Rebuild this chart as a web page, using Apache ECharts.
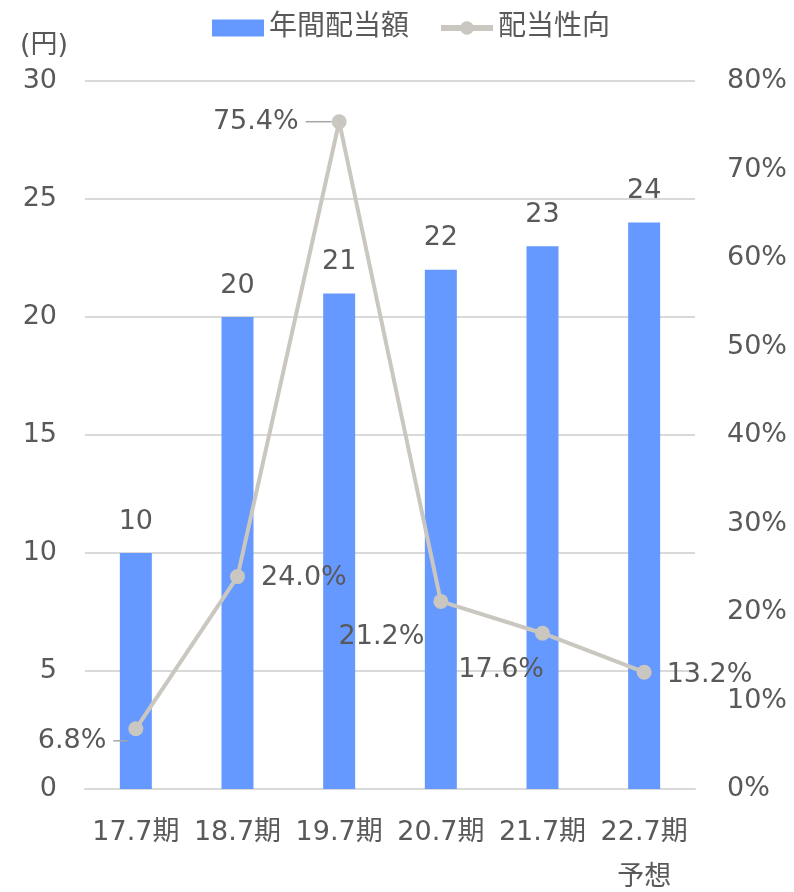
<!DOCTYPE html>
<html>
<head>
<meta charset="utf-8">
<script src="https://cdn.jsdelivr.net/npm/echarts@6/dist/echarts.min.js"></script>
<style>
  html, body { margin: 0; padding: 0; background: #fff; }
  #chart { width: 794px; height: 892px; }
</style>
</head>
<body>
<div id="chart"></div>
<script>
// data
var categories = ['17.7期', '18.7期', '19.7期', '20.7期', '21.7期', '22.7期\n予想'];
var dividend = [10, 20, 21, 22, 23, 24];
var payoutRatio = [6.8, 24.0, 75.4, 21.2, 17.6, 13.2];

var font = '"DejaVu Sans", "Noto Sans CJK JP", sans-serif';
var textColor = '#595959';
var fs = 27;

// label placement for each ratio point (leader = short line toward the point)
var ratioLabels = [
  { position: 'left', distance: 1, offset: [0, 12], leader: 14 },
  { position: 'right', distance: 16, offset: [0, 1] },
  { position: 'left', distance: 0, offset: [0, 0], leader: 26 },
  { position: 'left', distance: 9, offset: [0, 36] },
  { position: 'left', distance: -9, offset: [0, 37] },
  { position: 'right', distance: 15, offset: [0, 3] }
];

var ratioData = payoutRatio.map(function (v, i) {
  var l = ratioLabels[i];
  var txt = v.toFixed(1) + '%';
  return {
    value: v,
    label: {
      position: l.position,
      distance: l.distance,
      offset: l.offset,
      formatter: l.leader ? '{t|' + txt + '}{g|}{ln' + i + '|}' : txt,
      rich: l.leader ? (function () {
        var r = {
          t: { fontSize: fs, color: textColor, fontFamily: font },
          g: { width: 7 }
        };
        r['ln' + i] = { width: l.leader, height: 1.5, backgroundColor: '#A6A6A6' };
        return r;
      })() : undefined
    }
  };
});

var chart = echarts.init(document.getElementById('chart'));
var option = {
  animation: false,
  textStyle: { fontFamily: font },
  legend: {
    top: 9,
    left: 207,
    itemGap: 29,
    itemWidth: 52,
    itemHeight: 17,
    textStyle: { fontSize: 28, color: textColor, fontFamily: font },
    data: [
      { name: '年間配当額', icon: 'rect' },
      { name: '配当性向', lineStyle: { width: 6, color: '#C9C7BF' } }
    ]
  },
  grid: { left: 85, right: 99, top: 81, bottom: 103, containLabel: false, outerBoundsMode: 'none' },
  xAxis: {
    type: 'category',
    data: categories,
    axisLine: { lineStyle: { color: '#D9D9D9', width: 2 } },
    axisTick: { show: false },
    axisLabel: { interval: 0, hideOverlap: false, color: textColor, fontSize: fs, margin: 21, lineHeight: 45, fontFamily: font }
  },
  yAxis: [
    {
      type: 'value',
      min: 0, max: 30, interval: 5,
      name: '(円)',
      nameGap: 22,
      nameLocation: 'end',
      nameTextStyle: { color: textColor, fontSize: fs, align: 'right', padding: [0, 17, 0, 0], fontFamily: font },
      axisLine: { show: false },
      axisTick: { show: false },
      axisLabel: { color: textColor, fontSize: fs, margin: 28, fontFamily: font },
      splitLine: { lineStyle: { color: '#D9D9D9', width: 2 } }
    },
    {
      type: 'value',
      min: 0, max: 80, interval: 10,
      axisLine: { show: false },
      axisTick: { show: false },
      axisLabel: { color: textColor, fontSize: fs, margin: 32, formatter: '{value}%', fontFamily: font },
      splitLine: { show: false }
    }
  ],
  series: [
    {
      name: '年間配当額',
      type: 'bar',
      data: dividend,
      barWidth: 32,
      itemStyle: { color: '#6699FF' },
      label: { show: true, position: 'top', distance: 18, color: textColor, fontSize: fs, fontFamily: font }
    },
    {
      name: '配当性向',
      type: 'line',
      yAxisIndex: 1,
      data: ratioData,
      symbol: 'circle',
      symbolSize: 15,
      lineStyle: { color: '#C9C7BF', width: 4 },
      itemStyle: { color: '#C9C7BF' },
      label: {
        show: true,
        color: textColor,
        fontSize: fs,
        fontFamily: font
      },
      z: 5
    }
  ]
};
chart.setOption(option);
</script>
</body>
</html>
